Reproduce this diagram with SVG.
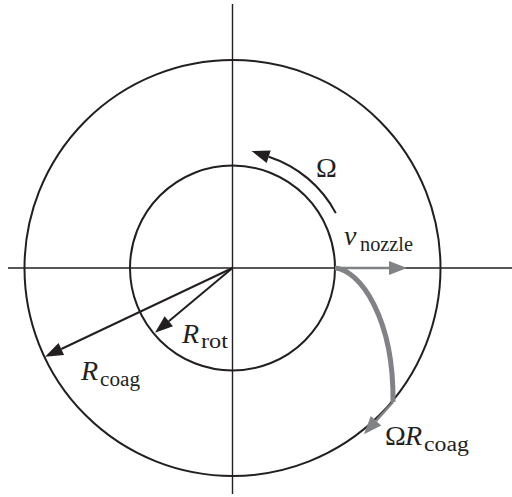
<svg xmlns="http://www.w3.org/2000/svg" width="512" height="497" viewBox="0 0 512 497">
<style>
.ax{stroke:#231f20;stroke-width:1.4;fill:none}
.circ{stroke:#231f20;stroke-width:2;fill:none}
.blk{stroke:#231f20;stroke-width:2;fill:none}
.gry{stroke:#808285;stroke-width:2.6;fill:none}
.gthick{stroke:#808285;stroke-width:5;fill:none}
text{font-family:"Liberation Serif","Times New Roman",serif;fill:#231f20}
.m{font-size:28px}
.i{font-style:italic}
.s{font-size:20px}
</style>
<defs>
<marker id="ab" markerUnits="userSpaceOnUse" markerWidth="20" markerHeight="14" refX="0" refY="0" orient="auto" overflow="visible">
<path d="M0,-6.5 L18,0 L0,6.5 z" fill="#231f20"/>
</marker>
<marker id="ag" markerUnits="userSpaceOnUse" markerWidth="20" markerHeight="14" refX="0" refY="0" orient="auto" overflow="visible">
<path d="M0,-7 L18,0 L0,7 z" fill="#808285"/>
</marker>
</defs>
<g id="axes">
<line class="ax" x1="8" y1="268" x2="512" y2="268"/>
<line class="ax" x1="232.5" y1="4" x2="232.5" y2="494"/>
</g>
<g id="outer-circle"><circle class="circ" cx="232.5" cy="268" r="208"/></g>
<g id="inner-circle"><circle class="circ" cx="232.5" cy="268" r="102.5"/></g>
<g id="connectors">
<path class="blk" d="M335.8,213.1 A117,117 0 0 0 268.7,156.7" marker-end="url(#ab)"/>
<line class="blk" x1="232.5" y1="268" x2="61.3" y2="349" marker-end="url(#ab)"/>
<line class="blk" x1="232.5" y1="268" x2="168.8" y2="321.2" marker-end="url(#ab)"/>
<line class="gry" x1="335" y1="268" x2="389" y2="268" marker-end="url(#ag)"/>
<path class="gthick" d="M335,268 C360,270 394,318 393,402"/>
<line class="gry" x1="393" y1="402" x2="376" y2="420.8" marker-end="url(#ag)"/>
</g>
<g id="labels">
<text class="m" x="316" y="177">Ω</text>
<text class="m i" x="344" y="245">v</text>
<text class="s" x="360" y="251" textLength="53" lengthAdjust="spacingAndGlyphs">nozzle</text>
<text class="m i" x="182" y="343">R</text>
<text class="s" x="201" y="348" textLength="27" lengthAdjust="spacingAndGlyphs">rot</text>
<text class="m i" x="81" y="380">R</text>
<text class="s" x="100" y="386" textLength="40" lengthAdjust="spacingAndGlyphs">coag</text>
<text class="m" x="385" y="445">Ω</text>
<text class="m i" x="405" y="445">R</text>
<text class="s" x="424" y="451" textLength="45" lengthAdjust="spacingAndGlyphs">coag</text>
</g>
</svg>
